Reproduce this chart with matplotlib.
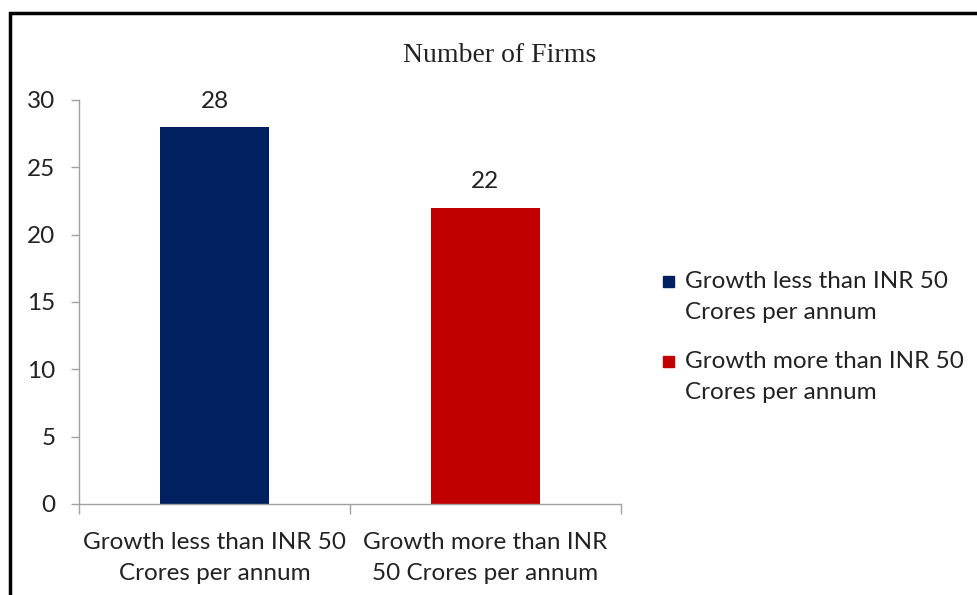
import matplotlib
matplotlib.use("Agg")
import matplotlib.pyplot as plt
from matplotlib.patches import Rectangle

# Datos del gráfico
categorias = ["Growth less than INR 50\nCrores per annum",
              "Growth more than INR\n50 Crores per annum"]
leyenda = ["Growth less than INR 50\nCrores per annum",
           "Growth more than INR 50\nCrores per annum"]
num_empresas = [28, 22]
colores = ["#002060", "#C00000"]
y_ticks = [0, 5, 10, 15, 20, 25, 30]

plt.rcParams["font.family"] = ["Lato", "DejaVu Sans"]
FS = 17.5

W, H = 977, 595
fig = plt.figure(figsize=(W / 100, H / 100), dpi=100)

# Marco negro del área del gráfico
fig.patches.append(Rectangle((10 / W, -0.1), 1.2, (H - 13) / H + 0.1,
                             transform=fig.transFigure, fill=False,
                             edgecolor="black", linewidth=2.5))

ax = fig.add_axes([79 / W, (H - 504) / H, 542 / W, 404 / H])
x = list(range(len(num_empresas)))
ax.bar(x, num_empresas, width=0.4, color=colores)
for xi, v in zip(x, num_empresas):
    ax.annotate(str(v), (xi, v), xytext=(0, 11), textcoords="offset points",
                ha="center", va="bottom", fontsize=FS, color="#222222")

ax.set_xlim(-0.5, len(num_empresas) - 0.5)
ax.set_ylim(0, 30)
ax.set_yticks(y_ticks)
ax.tick_params(axis="y", length=6, width=1, color="#A0A0A0",
               labelsize=FS, pad=11, labelcolor="#222222")
ax.set_xticks(x)
ax.set_xticklabels(categorias, fontsize=FS, color="#222222", linespacing=1.6)
ax.tick_params(axis="x", length=0, pad=20)
# marcas de separación entre categorías
ax.set_xticks([-0.5, 0.5, 1.5], minor=True)
ax.tick_params(axis="x", which="minor", length=7, width=1, color="#A0A0A0")

for lado in ["top", "right"]:
    ax.spines[lado].set_visible(False)
for lado in ["left", "bottom"]:
    ax.spines[lado].set_color("#A0A0A0")
    ax.spines[lado].set_linewidth(1)

fig.text(500 / W, 1 - 55 / H, "Number of Firms", ha="center", va="center",
         fontsize=20, family="Liberation Serif", color="#222222")

# Leyenda a la derecha
for i, (etq, col) in enumerate(zip(leyenda, colores)):
    ytop = 281 + i * 80
    fig.patches.append(Rectangle((663 / W, 1 - (ytop + 6) / H), 11 / W, 11 / H,
                                 transform=fig.transFigure, color=col))
    fig.text(685 / W, 1 - (ytop - 10) / H, etq, ha="left", va="top",
             fontsize=FS, color="#222222", linespacing=1.6)

fig.savefig("out.png", dpi=100)
